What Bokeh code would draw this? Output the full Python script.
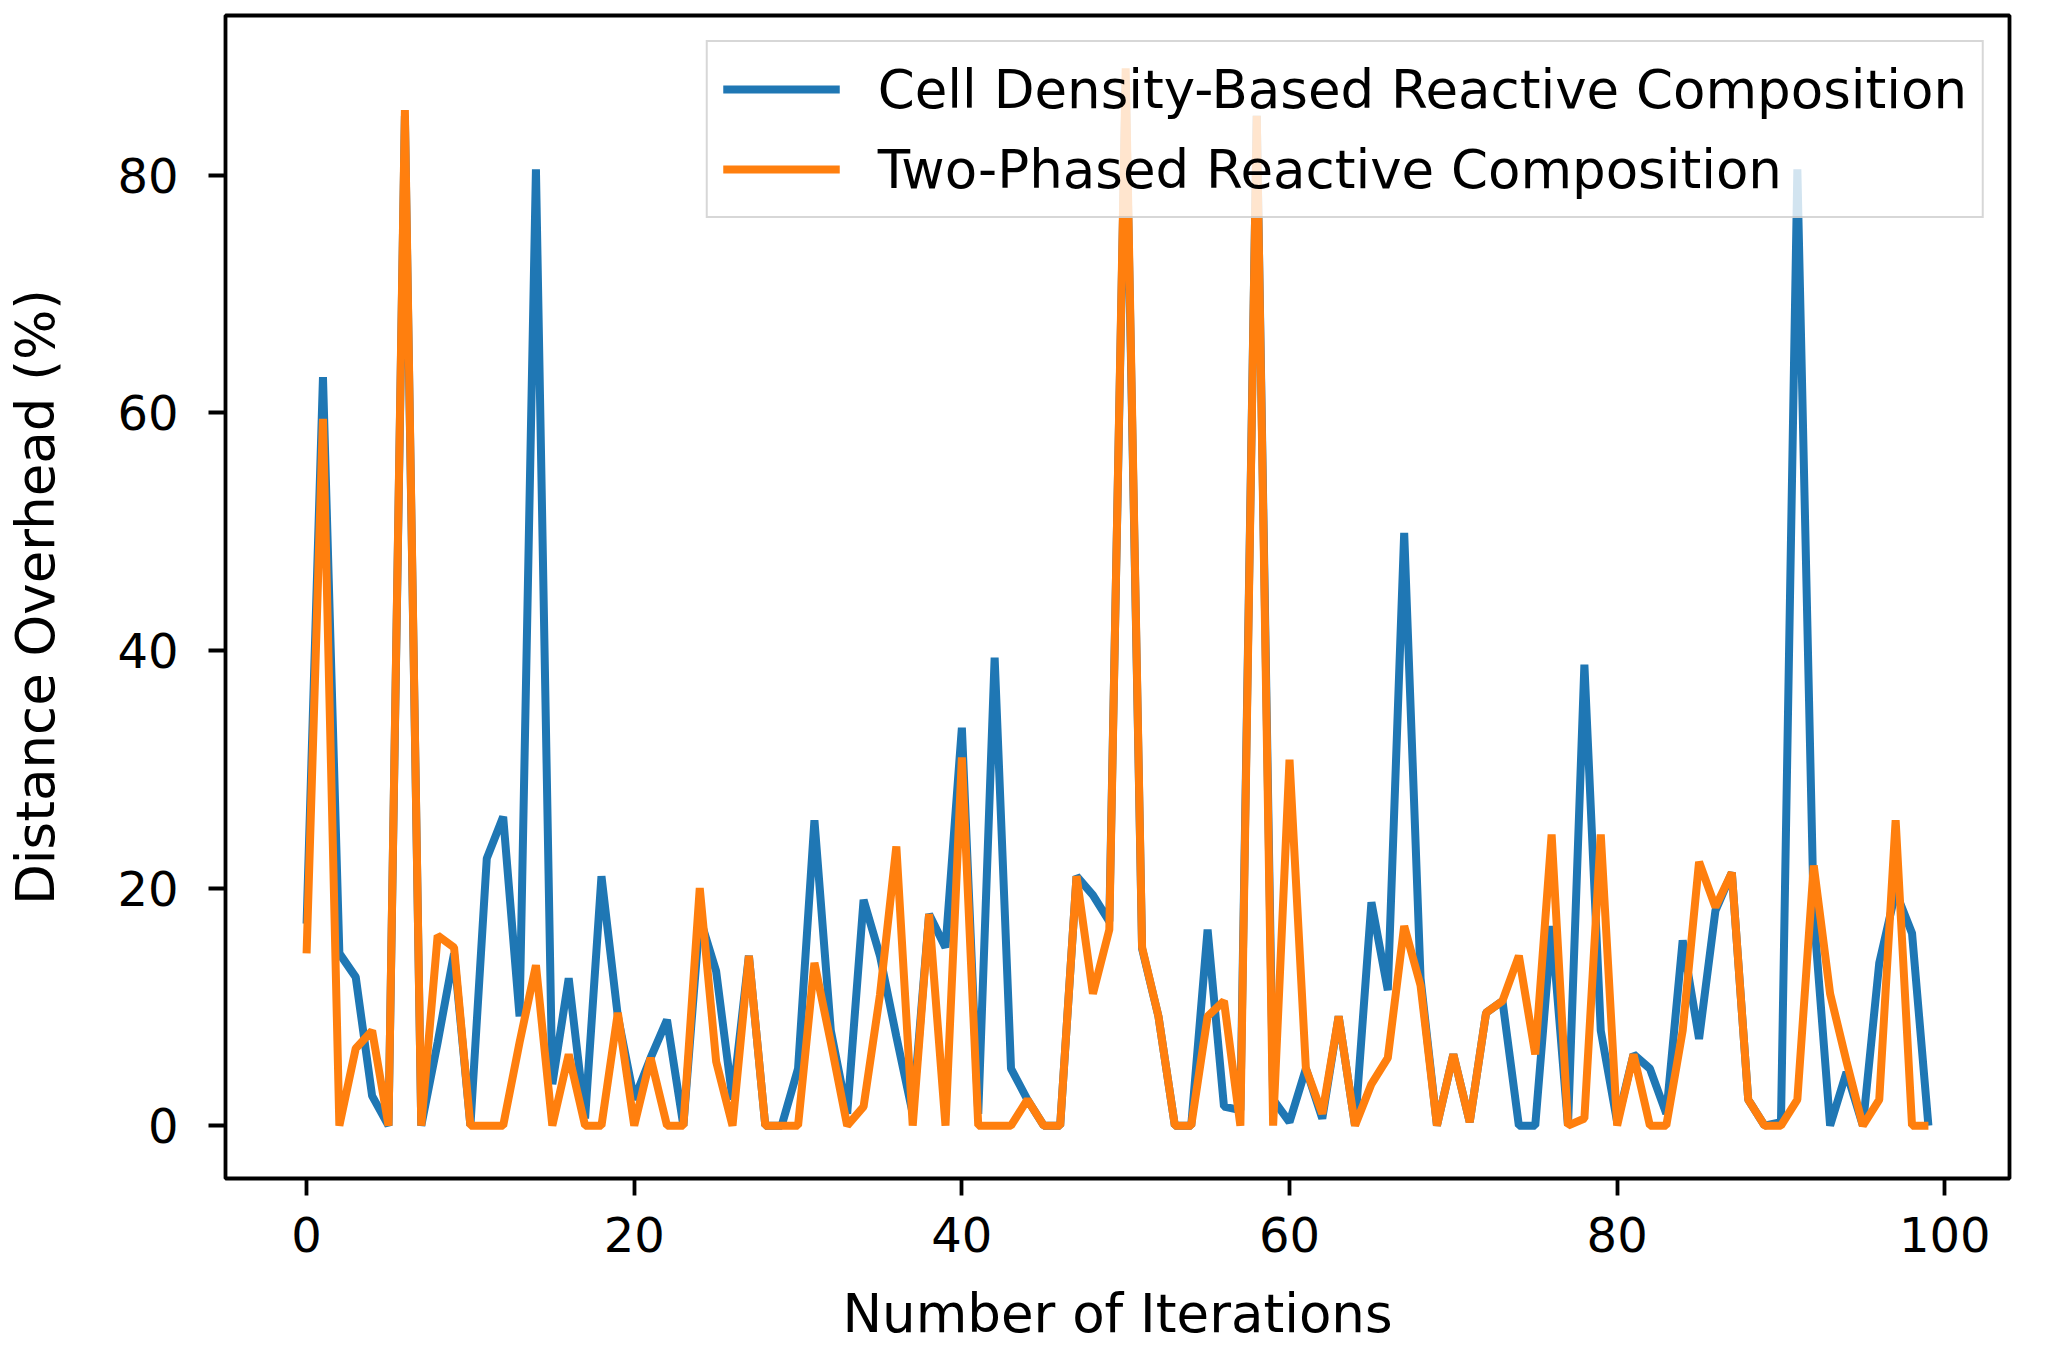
from bokeh.plotting import figure
from bokeh.models import Range1d, FixedTicker, Legend, LegendItem
from bokeh.embed import file_html
from bokeh.resources import INLINE

iterations = list(range(100))

cell_density = [
    17, 63, 14.5, 12.5, 2.5, 0, 85, 0, 7, 14.5,
    0, 22.5, 26, 9.2, 80.5, 3.5, 12.4, 0.6, 21, 9.2,
    2.2, 5.7, 8.9, 0, 17.5, 13, 2.2, 14.3, 0, 0,
    4.8, 25.7, 8, 1, 19, 14.3, 7.5, 1, 17.8, 15,
    33.5, 1, 39.4, 4.8, 2.2, 0, 0, 21, 19.4, 17.2,
    88, 14.9, 9.2, 0, 0, 16.5, 1.6, 1.3, 85, 2.2,
    0.3, 4.8, 0.6, 9.2, 0, 18.8, 11.4, 49.9, 12.4, 0,
    6, 0.3, 9.5, 10.5, 0, 0, 16.8, 0, 38.8, 8,
    0.3, 6, 4.8, 1, 15.6, 7.3, 18.1, 21.3, 2.2, 0,
    0.3, 80.5, 17.8, 0, 4.5, 0, 13.7, 19.7, 16.2, 0,
]

two_phased = [
    14.5, 59.5, 0, 6.5, 8, 0, 85.5, 0, 16, 15,
    0, 0, 0, 7, 13.5, 0, 6, 0, 0, 9.5,
    0, 5.7, 0, 0, 20, 5.4, 0, 14.3, 0, 0,
    0, 13.7, 7, 0, 1.6, 11, 23.5, 0, 17.8, 0,
    31, 0, 0, 0, 2.2, 0, 0, 21, 11.1, 16.5,
    89, 15, 9.2, 0, 0, 9.2, 10.5, 0, 85, 0,
    30.8, 4.8, 1, 9.2, 0, 3.5, 5.7, 16.8, 11.8, 0,
    6, 0.3, 9.5, 10.5, 14.3, 6, 24.5, 0, 0.6, 24.5,
    0, 6, 0, 0, 8, 22.2, 18.4, 21.3, 2.2, 0,
    0, 2.2, 21.9, 11.1, 5.4, 0, 2.2, 25.7, 0, 0,
]

x_ticks = [0, 20, 40, 60, 80, 100]
y_ticks = [0, 20, 40, 60, 80]

labels = ["Cell Density-Based Reactive Composition", "Two-Phased Reactive Composition"]
colors = ["#1f77b4", "#ff7f0e"]

FONT = "DejaVu Sans"

p = figure(
    width=2046, height=1346,
    output_backend="svg", toolbar_location=None,
    x_range=Range1d(-4.95, 103.95), y_range=Range1d(-4.45, 93.45),
    min_border_left=225, min_border_right=37,
    min_border_top=15, min_border_bottom=167,
)

r1 = p.line(iterations, cell_density, line_color=colors[0], line_width=8)
r2 = p.line(iterations, two_phased, line_color=colors[1], line_width=8)

p.xgrid.visible = False
p.ygrid.visible = False
p.outline_line_color = "black"
p.outline_line_width = 3.8
p.outline_line_alpha = 1.0

p.xaxis.ticker = FixedTicker(ticks=x_ticks)
p.yaxis.ticker = FixedTicker(ticks=y_ticks)

for ax in (p.xaxis[0], p.yaxis[0]):
    ax.axis_line_color = None
    ax.major_tick_in = 0
    ax.major_tick_out = 17
    ax.major_tick_line_width = 3.8
    ax.major_tick_line_color = "black"
    ax.minor_tick_line_color = None
    ax.major_label_text_font = FONT
    ax.major_label_text_font_size = "48px"
    ax.major_label_text_color = "black"
    ax.axis_label_text_font = FONT
    ax.axis_label_text_font_size = "53px"
    ax.axis_label_text_font_style = "normal"
    ax.axis_label_text_color = "black"

p.xaxis.axis_label = "Number of Iterations"
p.yaxis.axis_label = "Distance Overhead (%)"
p.xaxis.major_label_standoff = 21
p.yaxis.major_label_standoff = 30
p.xaxis.axis_label_standoff = 28
p.yaxis.axis_label_standoff = 48

legend = Legend(
    items=[LegendItem(label=labels[0], renderers=[r1]),
           LegendItem(label=labels[1], renderers=[r2])],
    location="top_right",
    margin=25,
    padding=15,
    spacing=16,
    glyph_width=117,
    glyph_height=64,
    label_height=64,
    label_standoff=38,
    label_text_font=FONT,
    label_text_font_size="53px",
    label_text_color="black",
    border_line_color="#b0b0b0",
    border_line_width=2,
    background_fill_color="white",
    background_fill_alpha=0.8,
)
p.add_layout(legend)

open("out.html", "w").write(file_html(p, INLINE))
